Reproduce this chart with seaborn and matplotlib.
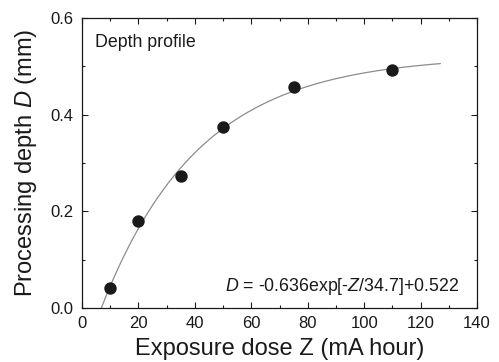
import numpy as np
import pandas as pd
import matplotlib
matplotlib.use("Agg")
import matplotlib.pyplot as plt
from matplotlib.ticker import MultipleLocator
import seaborn as sns

# measured points
dose = [10, 20, 35, 50, 75, 110]
depth = [0.041, 0.179, 0.273, 0.375, 0.458, 0.492]

# fit parameters, as printed on the chart
fit_a = -0.636
fit_tau = 34.7
fit_c = 0.522
fit_start = 6.85
fit_end = 127

x_ticks = [0, 20, 40, 60, 80, 100, 120, 140]
y_ticks = [0.0, 0.2, 0.4, 0.6]

sns.set_theme(style="ticks")
plt.rcParams['font.family'] = ['Liberation Sans', 'DejaVu Sans']
plt.rcParams['mathtext.fontset'] = 'custom'
plt.rcParams['mathtext.rm'] = 'Liberation Sans'
plt.rcParams['mathtext.it'] = 'Liberation Sans:italic'

df = pd.DataFrame({"dose": dose, "depth": depth})
zz = np.linspace(fit_start, fit_end, 200)
fit_df = pd.DataFrame({"dose": zz, "depth": fit_a * np.exp(-zz / fit_tau) + fit_c})

fig = plt.figure(figsize=(4.99, 3.62), dpi=100)
ax = fig.add_axes([0.1643, 0.1492, 0.7917, 0.8011])

sns.lineplot(data=fit_df, x="dose", y="depth", ax=ax, color="#8c8c8c", linewidth=0.9)
sns.scatterplot(data=df, x="dose", y="depth", ax=ax, color="#1a1a1a", s=80,
                edgecolor="#1a1a1a", linewidth=0, zorder=3)

ax.set_xlim(0, 140)
ax.set_ylim(0, 0.6)
ax.set_xticks(x_ticks)
ax.set_yticks(y_ticks)
ax.set_yticklabels([f"{v:.1f}" for v in y_ticks])
ax.xaxis.set_minor_locator(MultipleLocator(10))
ax.yaxis.set_minor_locator(MultipleLocator(0.1))
ax.tick_params(which="both", direction="in", top=True, right=True,
               colors="#1a1a1a", labelcolor="#1a1a1a", labelsize=12, width=0.8)
ax.tick_params(which="major", length=4, pad=6)
ax.tick_params(which="minor", length=2.5)
for sp in ax.spines.values():
    sp.set_visible(True)
    sp.set_color("#1a1a1a")
    sp.set_linewidth(0.9)

ax.set_xlabel("Exposure dose Z (mA hour)", fontsize=17, color="#1a1a1a", labelpad=5)
ax.set_ylabel("Processing depth $\\mathit{D}$ (mm)", fontsize=17, color="#1a1a1a", labelpad=8)

ax.text(0.033, 0.915, "Depth profile", transform=ax.transAxes, fontsize=12.8,
        color="#1a1a1a", va="center", ha="left")
ax.text(0.955, 0.075, "$\\mathit{D}$ = -0.636exp[-$\\mathit{Z}$/34.7]+0.522",
        transform=ax.transAxes, fontsize=12.8, color="#1a1a1a", va="center", ha="right")

fig.savefig("out.png", dpi=100)
